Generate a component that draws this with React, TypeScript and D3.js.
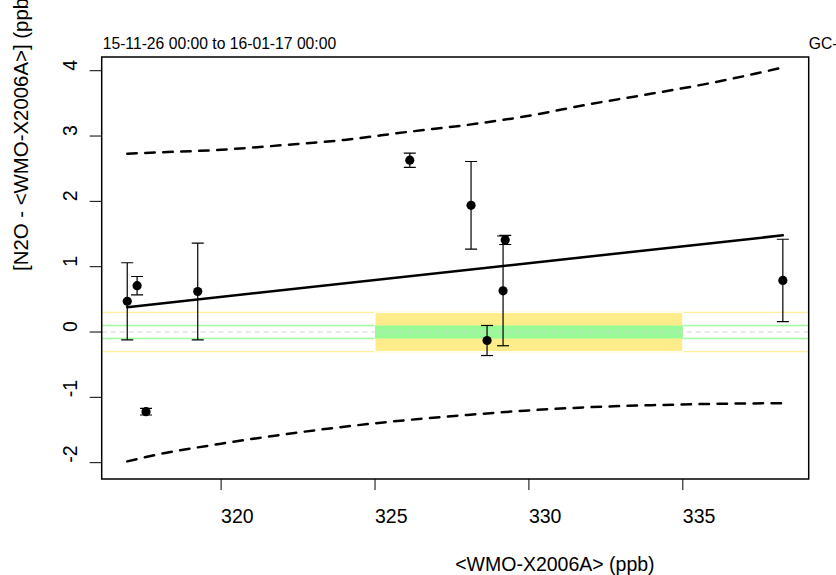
import React from "react";
import * as d3 from "d3";

// Comparison points: reference scale (x) and difference from it (y), with symmetric uncertainty
const pointX = [316.95, 317.27, 317.56, 319.24, 326.13, 328.12, 328.64, 329.16, 329.23, 338.25];
const pointY = [0.47, 0.71, -1.22, 0.62, 2.63, 1.94, -0.13, 0.63, 1.41, 0.79];
const pointErr = [0.59, 0.14, 0.05, 0.74, 0.11, 0.67, 0.23, 0.84, 0.07, 0.63];

// Fitted line and its prediction band
const fitX = [316.95, 338.25];
const fitY = [0.38, 1.48];
const bandX = [316.95, 318, 320, 322, 324, 326, 328, 330, 332, 334, 336, 338.25];
const bandUpper = [2.73, 2.75, 2.79, 2.86, 2.94, 3.06, 3.17, 3.31, 3.49, 3.65, 3.82, 4.05];
const bandLower = [-1.98, -1.87, -1.71, -1.57, -1.45, -1.35, -1.27, -1.2, -1.15, -1.12, -1.1, -1.09];

// Compatibility goals and the concentration range they apply to
const goalRange = [325, 335];
const innerGoal = 0.1;
const outerGoal = 0.3;

const xTicks = [320, 325, 330, 335];
const yTicks = [-2, -1, 0, 1, 2, 3, 4];

const titleLeft = "15-11-26 00:00 to 16-01-17 00:00";
const titleRight = "GC-";
const xLabel = "<WMO-X2006A> (ppb)";
const yLabel = "[N2O - <WMO-X2006A>] (ppb)";

const W = 836;
const H = 575;
const left = 101.7;
const right = 808.7;
const top = 57;
const bottom = 479;

const x = d3.scaleLinear().domain([316.12, 339.09]).range([left, right]);
const y = d3.scaleLinear().domain([-2.25, 4.21]).range([bottom, top]);

const font = "'Liberation Sans', Arial, sans-serif";

export default function App() {
  const fitLine = d3.line<number>()
    .x((_, i) => x(fitX[i]))
    .y((d) => y(d))(fitY) as string;
  const bandLine = d3.line<number>()
    .x((_, i) => x(bandX[i]))
    .y((d) => y(d))
    .curve(d3.curveMonotoneX);
  const upperPath = bandLine(bandUpper) as string;
  const lowerPath = bandLine(bandLower) as string;

  const capHalf = 6;

  return (
    <svg
      width={W}
      height={H}
      style={{ position: "absolute", left: 0, top: 0, background: "#fff" }}
      fontFamily={font}
    >
      <defs>
        <clipPath id="plotArea">
          <rect x={left} y={top} width={right - left} height={bottom - top} />
        </clipPath>
      </defs>
      <rect x={0} y={0} width={W} height={H} fill="#fff" />

      <g clipPath="url(#plotArea)">
        {/* goal lines across the whole range */}
        {[outerGoal, -outerGoal].map((g) => (
          <line key={"o" + g} x1={left} x2={right} y1={y(g)} y2={y(g)} stroke="#FFEC8B" strokeWidth={1.4} opacity={0.85} />
        ))}
        {[innerGoal, -innerGoal].map((g) => (
          <line key={"i" + g} x1={left} x2={right} y1={y(g)} y2={y(g)} stroke="#98FB98" strokeWidth={1.4} opacity={0.9} />
        ))}
        {/* goal boxes over the applicable range */}
        <rect
          x={x(goalRange[0])}
          y={y(outerGoal)}
          width={x(goalRange[1]) - x(goalRange[0])}
          height={y(-outerGoal) - y(outerGoal)}
          fill="#FFEC8B"
          stroke="#fff"
          strokeWidth={1}
        />
        <rect
          x={x(goalRange[0])}
          y={y(innerGoal)}
          width={x(goalRange[1]) - x(goalRange[0])}
          height={y(-innerGoal) - y(innerGoal)}
          fill="#98FB98"
        />
        <line x1={left} x2={right} y1={y(0)} y2={y(0)} stroke="#D3D3D3" strokeWidth={1} strokeDasharray="5,4" />

        {/* fit and prediction band */}
        <path d={fitLine} fill="none" stroke="#000" strokeWidth={2.5} strokeLinecap="round" />
        <path d={upperPath} fill="none" stroke="#000" strokeWidth={2.5} strokeDasharray="9.5,8.5" strokeLinecap="round" />
        <path d={lowerPath} fill="none" stroke="#000" strokeWidth={2.5} strokeDasharray="9.5,8.5" strokeLinecap="round" />

        {/* error bars */}
        {pointX.map((px, i) => {
          const cx = x(px);
          const y1 = y(pointY[i] + pointErr[i]);
          const y2 = y(pointY[i] - pointErr[i]);
          return (
            <g key={"e" + i} stroke="#000" strokeWidth={1.2}>
              <line x1={cx} x2={cx} y1={y1} y2={y2} />
              <line x1={cx - capHalf} x2={cx + capHalf} y1={y1} y2={y1} />
              <line x1={cx - capHalf} x2={cx + capHalf} y1={y2} y2={y2} />
            </g>
          );
        })}
        {pointX.map((px, i) => (
          <circle key={"p" + i} cx={x(px)} cy={y(pointY[i])} r={4.6} fill="#000" />
        ))}
      </g>

      {/* plot frame */}
      <rect x={left} y={top} width={right - left} height={bottom - top} fill="none" stroke="#000" strokeWidth={1.5} />

      {/* x axis */}
      {xTicks.map((t) => (
        <g key={"xt" + t}>
          <line x1={x(t)} x2={x(t)} y1={bottom} y2={bottom + 11} stroke="#000" strokeWidth={1} />
          <text x={x(t)} y={523} fontSize={19.5} textAnchor="start" fill="#000">{t}</text>
        </g>
      ))}
      {/* y axis */}
      {yTicks.map((t) => (
        <g key={"yt" + t}>
          <line x1={left - 12} x2={left} y1={y(t)} y2={y(t)} stroke="#000" strokeWidth={1} />
          <text
            transform={`translate(77,${y(t)}) rotate(-90)`}
            fontSize={19.5}
            textAnchor="start"
            fill="#000"
          >
            {t}
          </text>
        </g>
      ))}

      <text x={(left + right) / 2} y={571} fontSize={19.5} textAnchor="start" fill="#000">{xLabel}</text>
      <text
        transform={`translate(28,271) rotate(-90)`}
        fontSize={20.4}
        textAnchor="start"
        fill="#000"
      >
        {yLabel}
      </text>

      <text x={left + 1} y={49} fontSize={15.7} textAnchor="start" fill="#000">{titleLeft}</text>
      <text x={right} y={49} fontSize={15.7} textAnchor="start" fill="#000">{titleRight}</text>
    </svg>
  );
}
